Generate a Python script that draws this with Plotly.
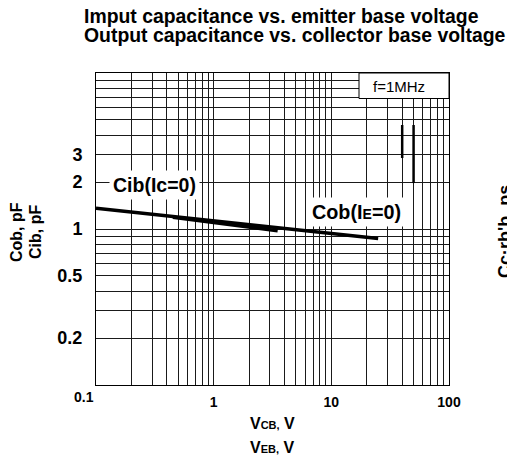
import plotly.graph_objects as go

# ---- data ----
cob_v = [0.1, 25]          # V_CB, V
cob_c = [1.36, 0.87]       # Cob, pF
cib_v = [0.45, 3.5]        # V_EB, V
cib_c = [1.19, 0.975]      # Cib, pF

x_grid = [0.1, 0.2, 0.3, 0.4, 0.5, 0.6, 0.7, 0.8, 0.9,
          1, 2, 3, 4, 5, 6, 7, 8, 9,
          10, 20, 30, 40, 50, 60, 70, 80, 90, 100]
x_labels = {1: "1", 10: "10", 100: "100"}
y_grid = [0.1, 0.2, 0.3, 0.4, 0.5, 0.6, 0.7, 0.8, 0.9,
          1, 2, 3, 4, 5, 6, 7, 8, 9, 10]
y_labels = {0.2: "0.2", 0.5: "0.5", 1: "1", 2: "2", 3: "3"}

FONT = "Liberation Sans, Arial, Helvetica, sans-serif"

fig = go.Figure()
fig.add_trace(go.Scatter(x=cob_v, y=cob_c, mode="lines", name="Cob(IE=0)",
                         line=dict(color="black", width=3.5), showlegend=False,
                         hoverinfo="skip"))
fig.add_trace(go.Scatter(x=cib_v, y=cib_c, mode="lines", name="Cib(Ic=0)",
                         line=dict(color="black", width=3.5), showlegend=False,
                         hoverinfo="skip"))

W, H = 507, 457
L, R, T, B = 96, 449, 73, 385


def px(xp):
    return (xp - L) / (R - L)


def py(yp):
    return (B - yp) / (B - T)


fig.update_layout(
    width=W, height=H,
    margin=dict(l=L, r=W - R, t=T, b=H - B),
    paper_bgcolor="white", plot_bgcolor="white",
    font=dict(family=FONT, color="black"),
    showlegend=False,
)
fig.update_xaxes(
    type="log", range=[-1, 2],
    tickvals=x_grid, ticktext=[x_labels.get(v, "") for v in x_grid],
    showgrid=True, gridcolor="#1a1a1a", gridwidth=1,
    showline=True, linecolor="black", linewidth=1, mirror=True,
    ticks="", ticklabelstandoff=4,
    tickfont=dict(size=14, weight="bold", family=FONT),
    zeroline=False,
)
fig.update_yaxes(
    type="log", range=[-1, 1],
    tickvals=y_grid, ticktext=[y_labels.get(v, "") for v in y_grid],
    showgrid=True, gridcolor="#1a1a1a", gridwidth=1,
    showline=True, linecolor="black", linewidth=1, mirror=True,
    ticks="", ticklabelstandoff=9,
    tickfont=dict(size=18, weight="bold", family=FONT),
    zeroline=False,
)

shapes = [
    # f=1MHz box
    dict(type="rect", xref="paper", yref="paper", x0=px(359), x1=1, y0=py(98.5), y1=1,
         fillcolor="white", line=dict(color="black", width=1), layer="above"),
    # thickened grid segments (scan artefacts)
    dict(type="line", xref="x", yref="y", x0=40, x1=40, y0=2.85, y1=4.64,
         line=dict(color="black", width=2.5), layer="above"),
    dict(type="line", xref="x", yref="y", x0=50, x1=50, y0=1.97, y1=4.64,
         line=dict(color="black", width=2.5), layer="above"),
]
fig.update_layout(shapes=shapes)

ann = []
bold = dict(family=FONT, weight="bold", color="black")
# title lines
ann.append(dict(xref="paper", yref="paper", x=px(82), y=py(16), xanchor="left", yanchor="middle",
                text="Imput capacitance vs. emitter base voltage", showarrow=False,
                font=dict(size=19.4, **bold)))
ann.append(dict(xref="paper", yref="paper", x=px(82), y=py(35), xanchor="left", yanchor="middle",
                text="Output capacitance vs. collector base voltage", showarrow=False,
                font=dict(size=19.4, **bold)))
# curve labels
ann.append(dict(xref="paper", yref="paper", x=px(154), y=py(185), xanchor="center", yanchor="middle",
                text="Cib(Ic=0)", showarrow=False, bgcolor="white", borderpad=3,
                font=dict(size=19.5, **bold)))
ann.append(dict(xref="paper", yref="paper", x=px(356), y=py(212), xanchor="center", yanchor="middle",
                text="Cob(I<span style='font-size:14px'>E</span>=0)", showarrow=False,
                bgcolor="white", borderpad=3, font=dict(size=19.8, **bold)))
# f=1MHz
ann.append(dict(xref="paper", yref="paper", x=px(398.5), y=py(87), xanchor="center", yanchor="middle",
                text="f=1MHz", showarrow=False, font=dict(size=15, family=FONT, color="black")))
# 0.1 corner label
ann.append(dict(xref="paper", yref="paper", x=px(84), y=py(397), xanchor="center", yanchor="middle",
                text="0.1", showarrow=False, font=dict(size=14, **bold)))
# x axis title
ann.append(dict(xref="paper", yref="paper", x=px(272), y=py(423), xanchor="center", yanchor="middle",
                text="V<span style='font-size:11px'>CB,</span> V", showarrow=False,
                font=dict(size=16, **bold)))
ann.append(dict(xref="paper", yref="paper", x=px(272), y=py(447), xanchor="center", yanchor="middle",
                text="V<span style='font-size:11px'>EB,</span> V", showarrow=False,
                font=dict(size=16, **bold)))
# y axis title
ann.append(dict(xref="paper", yref="paper", x=px(16), y=py(232), xanchor="center", yanchor="middle",
                text="Cob, pF", textangle=-90, showarrow=False, font=dict(size=16, **bold)))
ann.append(dict(xref="paper", yref="paper", x=px(35), y=py(232), xanchor="center", yanchor="middle",
                text="Cib, pF", textangle=-90, showarrow=False, font=dict(size=16, **bold)))
# neighbouring chart's axis title, cut at the right edge (as in the reference)
ann.append(dict(xref="paper", yref="paper", x=px(505), y=py(231), xanchor="center", yanchor="middle",
                text="Cc·rb'b, ps", textangle=-90, showarrow=False, font=dict(size=18, **bold)))
fig.update_layout(annotations=ann)

fig.write_html("out.html",
               config={"displayModeBar": False},
               post_script="document.body.style.margin='0';document.body.style.overflow='hidden';")
